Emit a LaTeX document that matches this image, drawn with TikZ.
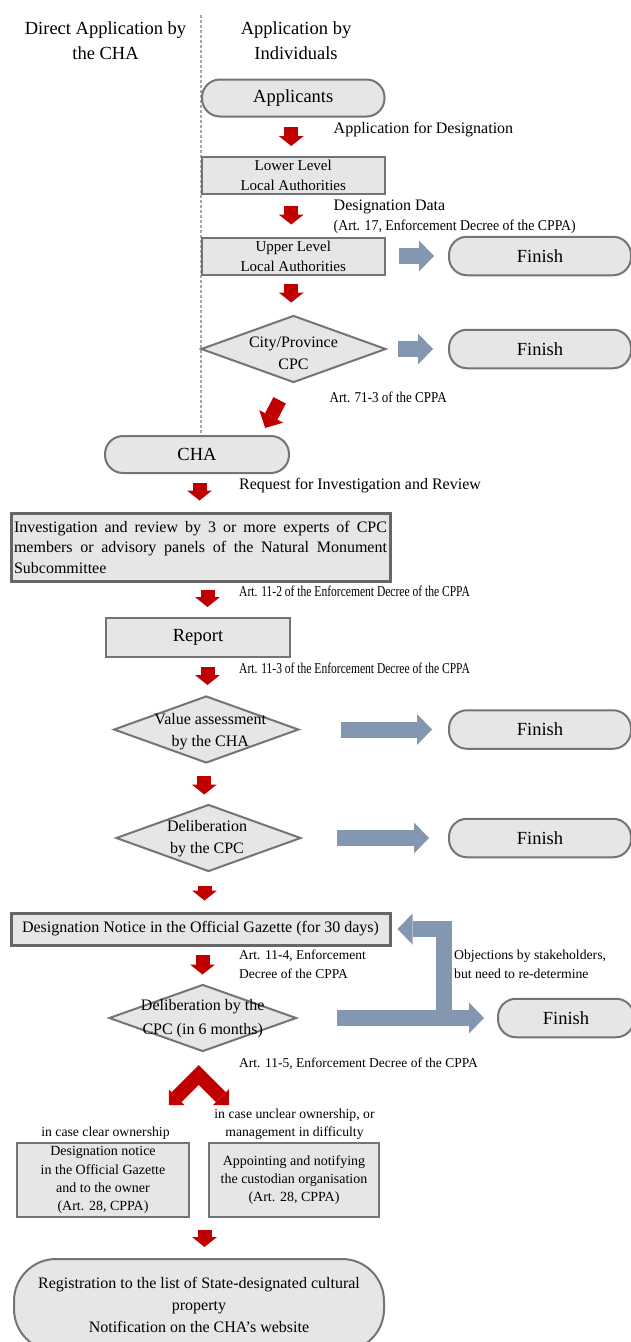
\documentclass[tikz,border=0pt]{standalone}
\usepackage{fontspec}
\setmainfont{Liberation Serif}
\usepackage{graphicx}
\usetikzlibrary{arrows.meta,shapes.geometric}
\definecolor{boxgray}{HTML}{E6E6E6}
\definecolor{edgegray}{HTML}{747474}
\definecolor{heavygray}{HTML}{666666}
\definecolor{flowred}{HTML}{C00000}
\definecolor{slate}{HTML}{8497B0}
\newcommand{\fsize}[2]{\fontsize{#1}{#2}\selectfont}
\newcommand{\narrow}[2]{\scalebox{#1}[1]{#2}}

\begin{document}
\begin{tikzpicture}[x=1pt,y=-1pt,
    every node/.style={inner sep=0pt},
    box/.style={draw=edgegray, line width=2pt, fill=boxgray, align=center,
      minimum width=182.5pt, minimum height=37pt},
    heavybox/.style={box, draw=heavygray, line width=3pt},
    pill/.style={box, rounded corners=18pt},
    decision/.style={diamond, draw=edgegray, line width=2pt, fill=boxgray,
      minimum width=185pt, minimum height=67pt},
    dtext/.style={align=center, font=\fsize{16}{22}},
    finish/.style={pill, minimum width=182pt, minimum height=38.5pt, font=\fsize{18.5}{22}},
    note/.style={anchor=west, align=left, font=\fsize{16}{19}},
    redarr/.style={draw=flowred, line width=14pt,
      -{Triangle[width=25pt,length=10pt,line width=0pt]}},
    slatearr/.style={draw=slate, line width=16pt,
      -{Triangle[width=31pt,length=15pt,line width=0pt]}}]
  \useasboundingbox (0,0) rectangle (630,1342);

  % two routes into the procedure
  \node[font=\fsize{18.5}{25}, align=center] (hdrcha) at (105.5,40.5) {Direct Application by\\the CHA};
  \node[font=\fsize{18.5}{25}, align=center] (hdrind) at (296,40.5) {Application by\\Individuals};
  \draw[gray!70, line width=1.2pt, dash pattern=on 3pt off 2pt] (201,15) -- (201,436);

  \node[pill, font=\fsize{18.5}{22}] (applicants) at (293.25,98) {Applicants};
  \node[box, font=\fsize{15}{20}] (lowerla) at (293.25,175.5) {Lower Level\\Local Authorities};
  \node[box, font=\fsize{15}{20}] (upperla) at (293.25,256) {Upper Level\\Local Authorities};
  \node[decision, label={[dtext, yshift=-4pt]center:City/Province\\CPC}] (citycpc) at (293.5,349) {};
  \foreach \y [count=\i] in {256,349,729.5,838}
    \node[finish] (fin\i) at (540,\y) {Finish};
  \node[finish, minimum width=136pt] (fin5) at (566,1018) {Finish};

  \node[pill, minimum width=184pt, font=\fsize{18.5}{22}] (cha) at (197,454.5) {CHA};
  \node[heavybox, minimum width=379pt, minimum height=68pt, text width=373pt,
    align=justify, font=\fsize{16}{20.5}] (review) at (200.5,547)
    {Investigation and review by 3 or more experts of CPC\linebreak
     members or advisory panels of the Natural Monument\linebreak Subcommittee};
  \node[box, minimum width=184pt, minimum height=39pt, font=\fsize{18.5}{22}] (report) at (198,637.5) {Report};
  \node[decision, label={[dtext, xshift=4pt, yshift=-2.5pt]center:Value assessment\\by the CHA}] (valuecha) at (206.25,729.5) {};
  \node[decision, label={[dtext, xshift=-1.5pt, yshift=-1pt]center:Deliberation\\by the CPC}] (delibcpc) at (208.5,838) {};
  \node[heavybox, minimum width=379pt, minimum height=32pt, font=\fsize{16}{19}] (notice) at (200.5,929)
    {Designation Notice in the Official Gazette (for 30 days)};
  \node[decision, minimum width=187.5pt,
    label={[dtext, font=\fsize{16}{24}, yshift=-1pt]center:Deliberation by the\\CPC (in 6 months)}] (delibsix) at (202.75,1018) {};
  \node[box, minimum width=172pt, minimum height=74pt, font=\fsize{14}{18.3}] (clearown) at (103,1180)
    {Designation notice\\in the Official Gazette\\and to the owner\\(Art. 28, CPPA)};
  \node[box, minimum width=170pt, minimum height=74pt, font=\fsize{14}{18}] (unclearown) at (294,1180)
    {Appointing and notifying\\the custodian organisation\\(Art. 28, CPPA)};
  \node[pill, rounded corners=42pt, minimum width=370pt, minimum height=92pt, font=\fsize{16}{22}] (registry) at (199,1305)
    {Registration to the list of State-designated cultural\\property\\Notification on the CHA's website};

  % legal references and conditions
  \node[note] (lblappl) at (333.5,130) {Application for Designation};
  \node[note] (lbldata) at (333.5,207) {Designation Data};
  \node[note, font=\fsize{15}{18}] (lblart17) at (333.5,227) {\narrow{0.92}{(Art. 17, Enforcement Decree of the CPPA)}};
  \node[note, font=\fsize{15}{18}] (lblart71) at (329.5,397) {\narrow{0.87}{Art. 71-3 of the CPPA}};
  \node[note] (lblreq) at (239,486) {Request for Investigation and Review};
  \node[note, font=\fsize{15}{18}] (lblart112) at (239,591) {\narrow{0.77}{Art. 11-2 of the Enforcement Decree of the CPPA}};
  \node[note, font=\fsize{15}{18}] (lblart113) at (239,668) {\narrow{0.77}{Art. 11-3 of the Enforcement Decree of the CPPA}};
  \node[note, font=\fsize{13.5}{19}] (lblart114) at (239,964.5) {Art. 11-4, Enforcement\\Decree of the CPPA};
  \node[note, font=\fsize{13.7}{19}] (lblobj) at (454,964.5) {Objections by stakeholders,\\but need to re-determine};
  \node[note, font=\fsize{13.5}{18}] (lblart115) at (239,1064) {Art. 11-5, Enforcement Decree of the CPPA};
  \node[font=\fsize{13.7}{18}, align=center] (lblunclear) at (294.5,1124) {in case unclear ownership, or\\management in difficulty};
  \node[font=\fsize{13.7}{18}] (lblclear) at (105.5,1133) {in case clear ownership};

  % red flow arrows
  \foreach \a/\b/\dx/\s/\e in {applicants/lowerla/-2/9/10, lowerla/upperla/-2/11/12,
      upperla/citycpc/-2/8/12, cha/review/2.5/9/11, review/report/7/7/10,
      report/valuecha/9.5/9/10, valuecha/delibcpc/-2/12/9, delibcpc/notice/-4/13/11,
      notice/delibsix/2/8/9}
    \draw[redarr, shorten <=\s pt, shorten >=\e pt] ([xshift=\dx pt]\a.south) -- ([xshift=\dx pt]\a.south |- \b.north);
  \draw[redarr, -{Triangle[width=27pt,length=13pt,line width=0pt]}, shorten <=19pt, shorten >=8pt]
    ([xshift=-5pt]citycpc.south) -- ([xshift=64.5pt]cha.north);
  \coordinate (split) at ([xshift=-4pt,yshift=-22.5pt]delibsix.south);
  \coordinate (splitl) at ([xshift=-30pt,yshift=-30pt]split);
  \coordinate (splitr) at ([xshift=30pt,yshift=-30pt]split);
  \draw[redarr, {Triangle[width=22pt,length=11pt,line width=0pt]}-{Triangle[width=22pt,length=11pt,line width=0pt]}]
    (splitl) -- (split) -- (splitr);
  \draw[redarr, shorten <=12pt, shorten >=11pt] ([xshift=5.5pt]registry.north |- clearown.south) -- ([xshift=5.5pt]registry.north);

  % exits to Finish
  \draw[slatearr, shorten <=13.5pt, shorten >=14pt] (upperla) -- (fin1);
  \draw[slatearr, shorten <=11pt, shorten >=15pt] (citycpc) -- (fin2);
  \draw[slatearr, shorten <=41pt, shorten >=16pt] (valuecha) -- (fin3);
  \draw[slatearr, shorten <=34.5pt, shorten >=19pt] (delibcpc) -- (fin4);
  \draw[slatearr, shorten <=39pt, shorten >=13pt] (delibsix) -- (fin5);
  \coordinate (objfork) at (443.5,1018);
  \draw[slatearr, shorten >=6pt] (objfork) |- (notice.east);
\end{tikzpicture}
\end{document}
